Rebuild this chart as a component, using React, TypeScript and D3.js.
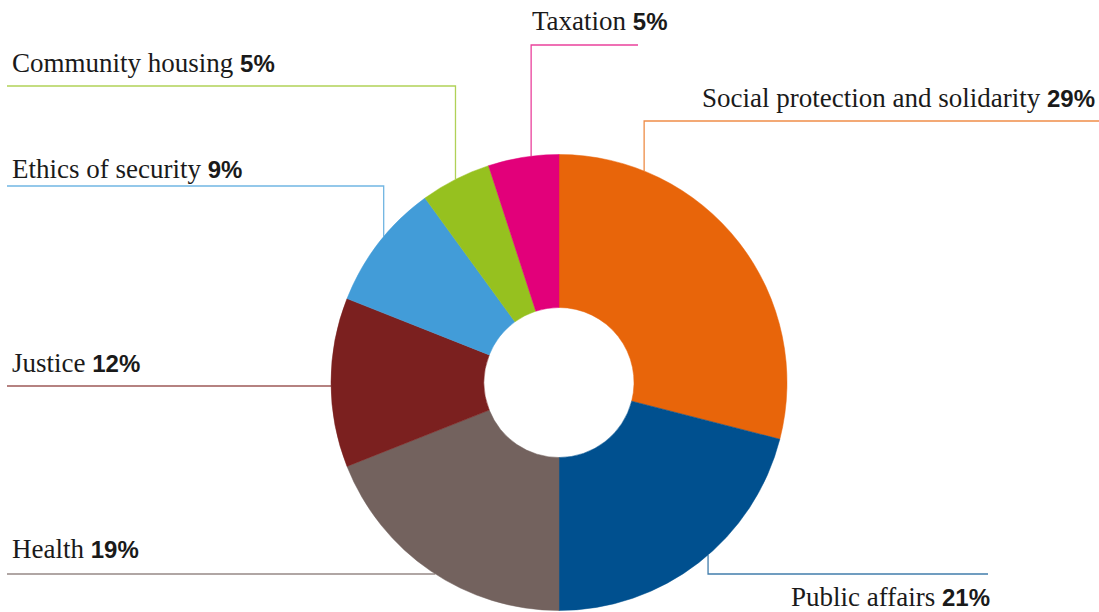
import React from 'react';
import * as d3 from 'd3';

const categories = [
  'Social protection and solidarity',
  'Public affairs',
  'Health',
  'Justice',
  'Ethics of security',
  'Community housing',
  'Taxation',
];
const shares = [29, 21, 19, 12, 9, 5, 5];
const colors = ['#E8650A', '#00508F', '#73625E', '#7B201F', '#429CD8', '#96C11F', '#E2007A'];

// label placement (layout only): text anchor point, leader line row and far end
type Layout = {
  tx: number;
  ty: number;
  anchor: 'start' | 'end';
  lineY: number;
  lineEnd: number;
  kind: 'above' | 'below' | 'flat';
  t: number; // where the leader meets the slice, as a fraction of the slice
};
const layouts: Layout[] = [
  { tx: 1095, ty: 107, anchor: 'end', lineY: 121, lineEnd: 1099, kind: 'above', t: 0.21 },
  { tx: 990, ty: 606, anchor: 'end', lineY: 574, lineEnd: 988, kind: 'below', t: 0.46 },
  { tx: 12, ty: 558, anchor: 'start', lineY: 574, lineEnd: 7, kind: 'flat', t: 0.5 },
  { tx: 12, ty: 372, anchor: 'start', lineY: 386, lineEnd: 7, kind: 'flat', t: 0.5 },
  { tx: 12, ty: 178, anchor: 'start', lineY: 186, lineEnd: 7, kind: 'above', t: 0.56 },
  { tx: 12, ty: 72, anchor: 'start', lineY: 86, lineEnd: 7, kind: 'above', t: 0.5 },
  { tx: 532, ty: 30, anchor: 'start', lineY: 45, lineEnd: 638, kind: 'above', t: 0.61 },
];

const W = 1099;
const H = 612;
const cx = 559;
const cy = 382.5;
const outerR = 228;
const innerR = 75;

export default function App() {
  const pie = d3
    .pie<number>()
    .sort(null)
    .value(d => d)
    .startAngle(0)
    .endAngle(2 * Math.PI);
  const arcs = pie(shares);
  const arc = d3.arc<d3.PieArcDatum<number>>().innerRadius(innerR).outerRadius(outerR);

  const leaders = arcs.map((a, i) => {
    const l = layouts[i];
    const ang = a.startAngle + (a.endAngle - a.startAngle) * l.t;
    if (l.kind === 'flat') {
      const dy = l.lineY - cy;
      const side = Math.sin(ang) < 0 ? -1 : 1;
      const x = cx + side * Math.sqrt(outerR * outerR - dy * dy);
      return `M${l.lineEnd},${l.lineY}H${x}`;
    }
    const px = cx + outerR * Math.sin(ang);
    const py = cy - outerR * Math.cos(ang);
    return `M${l.lineEnd},${l.lineY}H${px}V${py}`;
  });

  return (
    <div style={{ position: 'fixed', left: 0, top: 0, background: '#fff' }}>
      <svg width={W} height={H} style={{ display: 'block' }}>
        <g transform={`translate(${cx},${cy})`}>
          {arcs.map((a, i) => (
            <path key={categories[i]} d={arc(a) || ''} fill={colors[i]} stroke={colors[i]} strokeWidth={0.5} />
          ))}
        </g>
        {leaders.map((d, i) => (
          <path key={'l' + i} d={d} fill="none" stroke={colors[i]} strokeOpacity={0.75} strokeWidth={1.3} />
        ))}
        {categories.map((c, i) => {
          const l = layouts[i];
          return (
            <text
              key={'t' + i}
              x={l.tx}
              y={l.ty}
              textAnchor={l.anchor}
              fill="#1a1a1a"
              style={{ fontFamily: '"Liberation Serif", serif', fontSize: 27 }}
            >
              {c + ' '}
              <tspan style={{ fontFamily: '"Liberation Sans", sans-serif', fontWeight: 700, fontSize: 24 }}>
                {shares[i]}%
              </tspan>
            </text>
          );
        })}
      </svg>
    </div>
  );
}
